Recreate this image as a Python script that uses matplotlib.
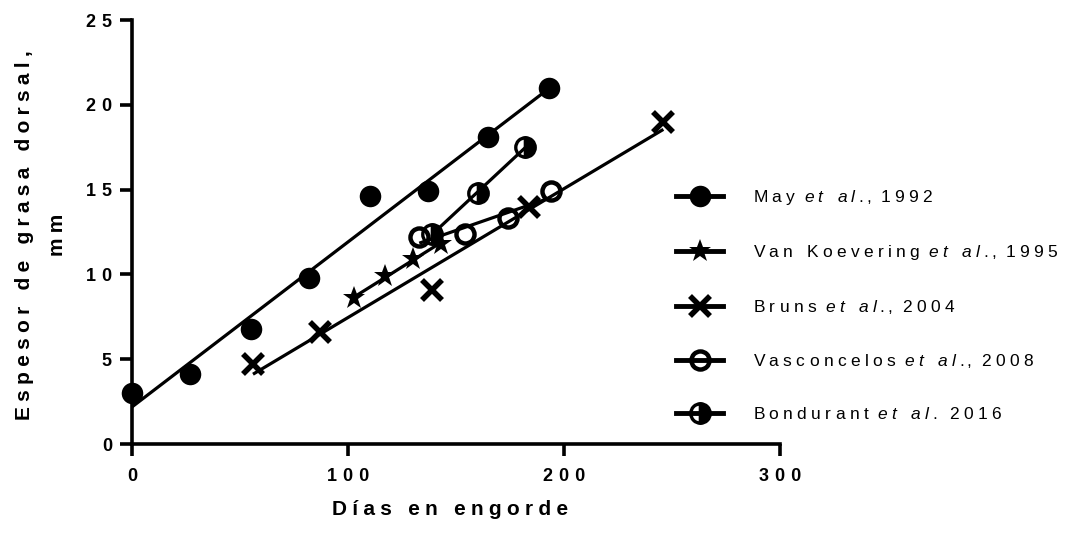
import numpy as np
import matplotlib
matplotlib.use("Agg")
import matplotlib.pyplot as plt
from matplotlib.lines import Line2D

plt.rcParams['font.family'] = ['Liberation Sans', 'DejaVu Sans']
plt.rcParams['mathtext.fontset'] = 'custom'
plt.rcParams['mathtext.rm'] = 'Liberation Sans'
plt.rcParams['mathtext.it'] = 'Liberation Sans:italic'

# dias en engorde vs espesor de grasa dorsal (mm)
may_dias = [0, 27, 55, 82, 110, 137, 165, 193]
may_grasa = [3.0, 4.1, 6.8, 9.8, 14.6, 14.9, 18.1, 21.0]

vank_dias = [103, 117, 130, 143]
vank_grasa = [8.6, 9.9, 10.9, 11.8]

bruns_dias = [56, 87, 139, 184, 246]
bruns_grasa = [4.7, 6.6, 9.1, 14.0, 19.0]

vasc_dias = [133, 154, 174, 194]
vasc_grasa = [12.2, 12.4, 13.3, 14.9]

bond_dias = [139, 160, 182]
bond_grasa = [12.4, 14.8, 17.5]

estudios = [
    ('May', ',', '1992'),
    ('Van Koevering', ',', '1995'),
    ('Bruns', ',', '2004'),
    ('Vasconcelos', ',', '2008'),
    ('Bondurant', '', '2016'),
]

xticks = [0, 100, 200, 300]
yticks = [0, 5, 10, 15, 20, 25]

TICK_GAP = '\u2004'
LABEL_GAP = '\u2005'
LEG_GAP = '\u2005'


def track(s, gap):
    return gap.join(s)


def cite(autor, coma, anio):
    # "et al." en cursiva; los espacios van dentro del modo math
    etal = r'$\ \ \mathit{e\;t\ \ \ a\;l\;.}$'
    return (track(autor, LEG_GAP) + etal + coma + r'$\ \ $' + track(anio, LEG_GAP))


estilos = [
    dict(marker='o', markersize=15.5, markerfacecolor='black', markeredgewidth=0),
    dict(marker='*', markersize=17, markerfacecolor='black', markeredgewidth=0),
    dict(marker='x', markersize=15, markeredgewidth=4),
    dict(marker='o', markersize=13, markerfacecolor='none', markeredgewidth=3.2),
    dict(marker='o', markersize=14, fillstyle='right', markerfacecolor='black',
         markerfacecoloralt='none', markeredgewidth=2.4),
]

series = [
    (may_dias, may_grasa),
    (vank_dias, vank_grasa),
    (bruns_dias, bruns_grasa),
    (vasc_dias, vasc_grasa),
    (bond_dias, bond_grasa),
]

fig = plt.figure(figsize=(10.76, 5.34), dpi=100)
ax = fig.add_axes([0.1227, 0.1685, 0.6022, 0.794])

handles = []
for (x, y), st in zip(series, estilos):
    x = np.array(x, dtype=float)
    y = np.array(y, dtype=float)
    m, b = np.polyfit(x, y, 1)
    xs = np.array([x.min(), x.max()])
    ax.plot(xs, m * xs + b, color='black', lw=2.3, zorder=2, solid_capstyle='butt')
    ax.plot(x, y, linestyle='none', color='black', markeredgecolor='black',
            zorder=3, clip_on=False, **st)
    handles.append(Line2D([], [], color='black', lw=3.5, markeredgecolor='black', **st))

ax.set_xlim(0, 300)
ax.set_ylim(0, 25)
ax.set_xticks(xticks)
ax.set_yticks(yticks)
ax.set_xticklabels([track(str(t), TICK_GAP) for t in xticks], fontsize=13, fontweight='bold')
ax.set_yticklabels([track(str(t), TICK_GAP) for t in yticks], fontsize=13, fontweight='bold')

for side in ['top', 'right']:
    ax.spines[side].set_visible(False)
for side in ['left', 'bottom']:
    ax.spines[side].set_linewidth(2.6)
ax.tick_params(direction='out', length=8.5, width=2.6)
ax.tick_params(axis='x', pad=9)
ax.tick_params(axis='y', pad=6)

fig.text(0.418, 0.045, track('Días en engorde', LABEL_GAP), ha='center', va='center',
         fontsize=15, fontweight='bold')
fig.text(0.038, 0.56, track('Espesor de grasa dorsal,', LABEL_GAP) + '\n' + track('mm', LABEL_GAP),
         ha='center', va='center', rotation=90, fontsize=15, fontweight='bold',
         linespacing=1.95, multialignment='center')

fig.legend(handles, [cite(*e) for e in estudios], loc='center left',
           bbox_to_anchor=(0.622, 0.429), frameon=False, fontsize=12.5,
           handlelength=2.7, handletextpad=1.7, labelspacing=2.07, borderaxespad=0)

fig.savefig('out.png', dpi=100)
